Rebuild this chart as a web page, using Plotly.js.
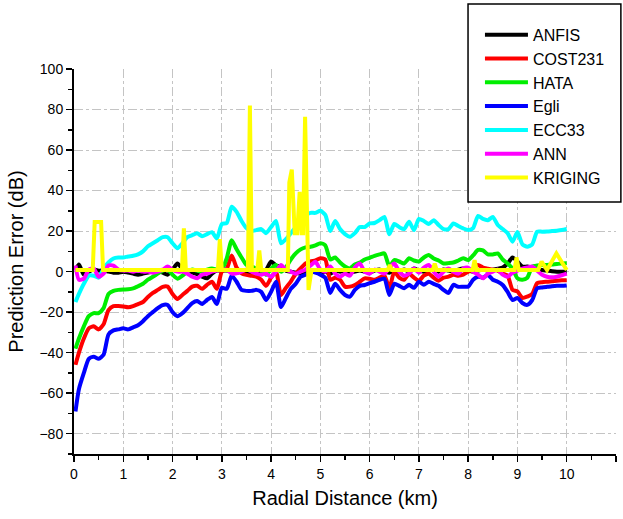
<!DOCTYPE html>
<html>
<head>
<meta charset="utf-8">
<script src="https://cdn.plot.ly/plotly-3.0.1.min.js"></script>
<style>html,body{margin:0;padding:0;background:#fff;}#chart{width:623px;height:519px;}</style>
</head>
<body>
<div id="chart"></div>
<script>
const distance = [0.03,0.1,0.2,0.3,0.4,0.5,0.6,0.7,0.8,0.9,1.0,1.1,1.2,1.3,1.4,1.5,1.6,1.7,1.8,1.9,2.0,2.1,2.2,2.3,2.4,2.5,2.6,2.7,2.8,2.9,3.0,3.1,3.2,3.3,3.4,3.5,3.6,3.7,3.8,3.9,4.0,4.1,4.2,4.3,4.4,4.5,4.6,4.7,4.8,4.9,5.0,5.1,5.2,5.3,5.4,5.5,5.6,5.7,5.8,5.9,6.0,6.1,6.2,6.3,6.4,6.5,6.6,6.7,6.8,6.9,7.0,7.1,7.2,7.3,7.4,7.5,7.6,7.7,7.8,7.9,8.0,8.1,8.2,8.3,8.4,8.5,8.6,8.7,8.8,8.9,9.0,9.1,9.2,9.3,9.4,9.5,9.6,9.7,9.8,9.9,10.0];

const anfis = [1,3.5,-1.5,0,1,0.5,0.5,0,-0.5,-0.5,0,-0.5,-1,-1.5,-1,-0.5,0,0,-0.5,-1.5,1,4,1.5,0,-0.5,-1.3,-2.5,-3.3,-1,0.5,0.5,0.5,0,-0.5,0,0,-0.5,0,0.5,1,5,3,2.5,0.5,0,-0.5,-1,0,-0.5,0,-1,0,-1,0.5,0,0.5,-0.5,0,0.5,0,-0.5,0.5,1,0,-0.5,0.5,0,1,0,1.5,0.5,0,0.5,1,0,1,0.5,0,1,1.5,0.5,0,0.5,1,0.5,1,1.5,2,4,7,5,2.5,2.5,2,1,0.8,0.5,0.2,0,0,0];

const cost231 = [-46,-40,-33,-28,-27,-28.5,-26,-19,-17,-17,-17.2,-17.6,-17,-16,-15,-12.5,-10.5,-9,-7.5,-7.4,-11,-13.5,-11.5,-9.5,-7.4,-7,-8.5,-6.5,-5,-8.5,0,1.5,8,2,-0.8,-1.6,-2,-2.5,-4,-7,-3,0,-11.5,-8,-4.9,-1,1.6,4,5,5.5,6.6,6,-4,-3,-4,-7.4,-7.4,-6.6,-5,-3.3,-3.5,-4,-3,-2,-8.2,0,-3,-4,-1,-3,-4.5,-2,-1,-3,-4.5,-3,-2.5,-1.5,-2,-1.5,0,1,3.3,2,1.5,1,0.5,-1,-2,-9,-9.8,-13,-12.3,-11,-5.7,-5.2,-5,-4.8,-4.5,-4.3,-4.2];

const hata = [-38,-33,-27,-22,-20.5,-20.5,-18,-11,-9.5,-9,-8.8,-8.7,-8.3,-7.2,-6,-4,-2.5,-1,0.5,1,-1.5,-3.5,-2,0,1,0.5,0,1,1.6,1,1,6.6,15.5,11,7,3.3,2.5,1.6,0.5,-1.6,1.5,3.3,0,2,6,9,11,12,12.3,13,14,13,6,7,4.5,2.5,1.6,3.5,4.5,6,6.8,7.8,8.5,9,2.5,5.7,5,4,6.6,5.5,5,7,8.2,6.5,5.5,4,4.2,4.5,5.5,6.6,5.7,8,10.7,10.5,8.5,8.5,9,6,4,1.5,-3.3,-4,-3,2.5,3,3.3,3.3,3.5,3.8,4,4.2];

const egli = [-69,-58,-50,-43,-42,-43,-41,-31,-29,-28.5,-28,-28.5,-27.5,-26.5,-24.5,-22,-20,-18,-16.5,-16.5,-20,-22,-20.5,-18,-15.5,-14.5,-16,-14,-12.5,-16,-8,-8.5,-2,-5,-9,-9.5,-9.5,-9,-10,-14,-10,-5,-17.5,-13,-8.5,-6,-2.5,-1.5,0,-0.5,-1.5,-3,-10.5,-6,-9,-11.5,-12.3,-9,-7,-6.6,-5.7,-5,-4,-3.5,-11.5,-6,-7,-8.2,-6.5,-8,-5,-6.5,-5,-6,-7,-9,-10.5,-6.5,-7.5,-7.4,-7.4,-4,-2.5,-3,-1.6,-4,-5,-6.6,-10,-14,-13,-15.5,-16.4,-14,-8.2,-7.8,-7.5,-7.2,-7,-7,-6.8];

const ecc33 = [-15,-11,-6,-2,-2,-3,1.5,4.5,6.5,7,7,7.5,7.8,8.5,10,12.5,14,15.5,17,17,14,11.5,14,17,18,18.9,17.5,18.5,19.5,16.4,23.5,24,32,29.5,25,21.5,20,20.5,21,19,22,25,14,16,19,22,26,28,29,29,30,28,20,25,21,18.5,17.2,19,22,22,23.8,24,25.4,27,18.5,23.5,22,21,24.6,20.5,26,25,23.5,25.4,23,21,21,23.8,22.5,21.3,20.5,21.5,27.5,26,25.4,27,23,21,19,14.8,19.5,13.5,12.3,13.5,19.7,19.7,19.8,20,20.2,20.5,21];

const ann = [3,-4,-3.5,1,1.5,-2.5,-1,3,3,1,0.5,0.5,0,0.5,0,0,-0.5,0,1,2.5,1,0,0,-1,-2.5,-3.3,-1.5,-1,0,0.5,1,1,-1,-0.8,0,1,0,-1,-1.5,-1,-2.5,0,3.3,1,0,-1,0,1,3,4.9,1,0,2.5,-1,-2.5,-1,-2,2,4,0,-1,1,0,-1,2,4,0,-2,-1,1.5,-0.5,2,3.3,0,-2.5,0,1.5,0,-1,1.5,2,0,-1.5,-3.3,-1,0,1,-1.5,-2.5,-0.5,0.5,1.5,2,2.5,0.5,-1.5,-2.5,-2.8,-2.5,-1.8,-1];

const krigingX = [0.03,0.38,0.42,0.55,0.59,2.19,2.23,2.27,2.92,2.96,3.0,3.53,3.57,3.61,3.72,3.76,3.8,4.34,4.37,4.42,4.48,4.53,4.58,4.62,4.65,4.69,4.76,4.82,6.37,6.41,6.45,7.28,7.32,7.36,8.09,8.13,8.17,8.94,8.98,9.03,9.42,9.49,9.6,9.79,10.0];
const kriging  = [0.8,0.8,24.5,24.5,0.8,0.8,21.4,0.8,0.8,16,0.8,0.8,82,0.8,0.8,10.5,0.8,0.8,44,50.4,19,19,39.4,19,19,76.4,-9,0.8,0.8,3.3,0.8,0.8,4,0.8,0.8,5.7,0.8,0.8,7,0.8,0.8,5,0.8,9,0.8];

const seriesNames = ['ANFIS','COST231','HATA','Egli','ECC33','ANN','KRIGING'];
const seriesColors = ['#000000','#ff0000','#00ee00','#0000ff','#00ffff','#ff00ff','#ffff00'];

const font = 'Liberation Sans, Arial, sans-serif';
const ys = [anfis, cost231, hata, egli, ecc33, ann];
const traces = ys.map((y, i) => ({
  x: distance, y: y, type: 'scatter', mode: 'lines', name: seriesNames[i],
  line: {color: seriesColors[i], width: 4, shape: 'spline', smoothing: 0.6}
}));
traces.push({
  x: krigingX, y: kriging, type: 'scatter', mode: 'lines', name: seriesNames[6],
  line: {color: seriesColors[6], width: 4}
});

const layout = {
  width: 623, height: 519,
  margin: {l: 74, r: 7, t: 69, b: 65},
  paper_bgcolor: '#ffffff', plot_bgcolor: '#ffffff',
  font: {family: font, color: '#000000', size: 14},
  showlegend: true,
  legend: {
    x: 0.749, y: 1.133, xanchor: 'left', yanchor: 'top',
    bgcolor: 'rgba(0,0,0,0)', borderwidth: 0,
    font: {family: font, size: 16, color: '#000'},
    tracegroupgap: 0, itemwidth: 43
  },
  xaxis: {
    range: [0, 11], tick0: 0, dtick: 1,
    showline: true, linecolor: '#000', linewidth: 2,
    ticks: 'outside', ticklen: 6, tickwidth: 1.5, tickcolor: '#000',
    minor: {dtick: 0.5, ticks: 'outside', ticklen: 4, tickwidth: 1.5, tickcolor: '#000', showgrid: false},
    showgrid: true, gridcolor: '#c4c4c4', griddash: 'dashdot', gridwidth: 1,
    zeroline: false,
    tickfont: {family: font, size: 14, color: '#000'},
    title: {text: 'Radial Distance (km)', font: {family: font, size: 20, color: '#000'}, standoff: 10}
  },
  yaxis: {
    range: [-90, 100], tick0: 0, dtick: 20,
    showline: true, linecolor: '#000', linewidth: 2,
    ticks: 'outside', ticklen: 6, tickwidth: 1.5, tickcolor: '#000',
    minor: {dtick: 10, ticks: 'outside', ticklen: 4, tickwidth: 1.5, tickcolor: '#000', showgrid: false},
    showgrid: true, gridcolor: '#c4c4c4', griddash: 'dashdot', gridwidth: 1,
    zeroline: false,
    tickfont: {family: font, size: 14, color: '#000'},
    title: {text: 'Prediction Error (dB)', font: {family: font, size: 20, color: '#000'}, standoff: 10}
  },
  shapes: [{
    type: 'rect', xref: 'paper', yref: 'paper', layer: 'above',
    x0: 0.727, x1: 1.009, y0: 0.6545, y1: 1.1688,
    line: {color: '#000', width: 1.5}, fillcolor: '#ffffff'
  }]
};

Plotly.newPlot('chart', traces, layout, {displayModeBar: false, staticPlot: true});
</script>
</body>
</html>
